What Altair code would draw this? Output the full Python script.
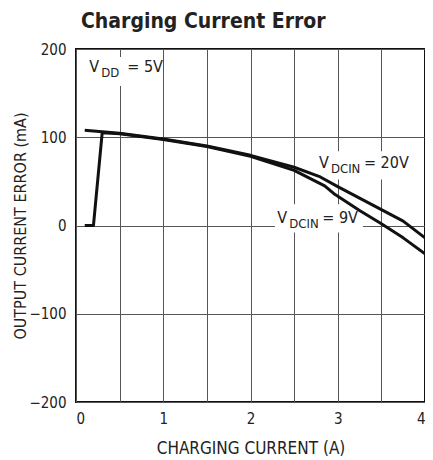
import altair as alt
import pandas as pd

# ---- data ----
x_9v = [0.1, 0.2, 0.3, 0.5, 1.0, 1.5, 2.0, 2.5, 2.85, 2.97, 3.25, 3.5, 3.75, 4.0]
y_9v = [0, 0, 105, 104, 97.5, 89.5, 78.5, 62.5, 45, 35, 17, 2, -14, -32]
x_20v = [0.1, 0.5, 1.0, 1.5, 2.0, 2.5, 2.8, 3.0, 3.25, 3.5, 3.75, 4.0]
y_20v = [108, 104.5, 98, 90, 79.5, 66, 55, 44, 31, 18, 5, -14]

x_ticks = [0, 0.5, 1, 1.5, 2, 2.5, 3, 3.5, 4]
y_ticks = [-200, -100, 0, 100, 200]

# annotation boxes (white, hide grid behind labels)
box_x1 = [0.09, 2.75, 2.28]
box_x2 = [0.97, 3.83, 3.29]
box_y1 = [158, 52, -8]
box_y2 = [191, 84, 24]

# label pieces: anchor x, anchor y (baseline), text, kind(main/sub), pixel dx
lab_x = [0.152] * 3 + [2.785] * 3 + [2.307] * 3
lab_y = [173.5] * 3 + [65.6] * 3 + [3] * 3
lab_t = ["V", "DD", "= 5V", "V", "DCIN", "= 20V", "V", "DCIN", "= 9V"]
lab_k = ["main", "sub", "main"] * 3
lab_dx = [0, 12, 38, 0, 12, 45, 0, 12, 45]

FONT = "DejaVu Sans Condensed"
INK = "#222"

rows = []
for i, (x, y) in enumerate(zip(x_9v, y_9v)):
    rows.append({"series": "9V", "i": i, "x": x, "y": y})
for i, (x, y) in enumerate(zip(x_20v, y_20v)):
    rows.append({"series": "20V", "i": i, "x": x, "y": y})
curves = pd.DataFrame(rows)

boxes = pd.DataFrame({"x1": box_x1, "x2": box_x2, "y1": box_y1, "y2": box_y2})
labels = pd.DataFrame({"j": list(range(len(lab_t))), "x": lab_x, "y": lab_y, "t": lab_t})

xscale = alt.Scale(domain=[0, 4], nice=False, zero=False)
yscale = alt.Scale(domain=[-200, 200], nice=False, zero=False)

xaxis = alt.Axis(values=x_ticks,
                 labelExpr="datum.value % 1 === 0 ? format(datum.value, 'd') : ''",
                 title="CHARGING CURRENT (A)", grid=True, gridColor="#555", gridWidth=1,
                 ticks=False, domain=False, labelFont=FONT, labelFontSize=15,
                 labelColor=INK, labelPadding=9, titleFont=FONT, titleFontSize=17,
                 titleFontWeight="normal", titleColor=INK, titlePadding=14)
yaxis = alt.Axis(values=y_ticks, title="OUTPUT CURRENT ERROR (mA)",
                 grid=True, gridColor="#555", gridWidth=1, ticks=False, domain=False,
                 labelFont=FONT, labelFontSize=15, labelColor=INK, labelPadding=10,
                 titleFont=FONT, titleFontSize=16, titleFontWeight="normal",
                 titleColor=INK, titlePadding=0)

rect = alt.Chart(boxes).mark_rect(color="white").encode(
    x=alt.X("x1:Q", scale=xscale, axis=xaxis), x2="x2:Q",
    y=alt.Y("y1:Q", scale=yscale, axis=yaxis), y2="y2:Q")

lines = alt.Chart(curves).mark_line(color="#111", strokeWidth=3, strokeJoin="round").encode(
    x=alt.X("x:Q", scale=xscale), y=alt.Y("y:Q", scale=yscale),
    detail="series:N", order="i:Q")

layers = [rect, lines]
for j in range(len(lab_t)):
    is_sub = lab_k[j] == "sub"
    layers.append(
        alt.Chart(labels).transform_filter(f"datum.j == {j}").mark_text(
            font=FONT, fontSize=13 if is_sub else 16, align="left",
            baseline="alphabetic", color=INK, dx=lab_dx[j], dy=5 if is_sub else 0
        ).encode(x=alt.X("x:Q", scale=xscale), y=alt.Y("y:Q", scale=yscale), text="t:N")
    )

chart = alt.layer(*layers).properties(
    width=349, height=353,
    title=alt.Title("Charging Current Error", anchor="start", frame="group", font=FONT,
                    fontSize=21, fontWeight="bold", color=INK, offset=10, dx=5),
    autosize=alt.AutoSizeParams(type="none"),
    padding={"left": 68, "top": 41, "right": 0, "bottom": 56},
).configure_view(stroke="#111", strokeWidth=2)

chart.save("out.html", embed_options={"renderer": "svg", "actions": False})
